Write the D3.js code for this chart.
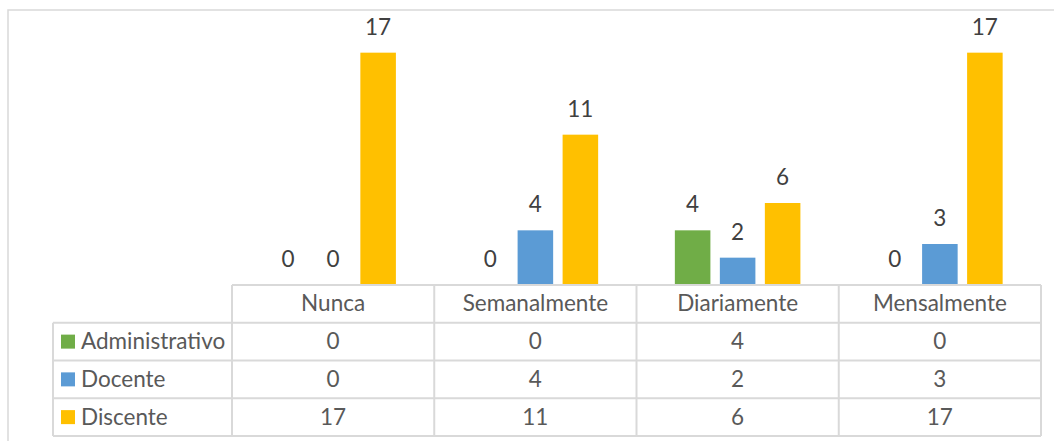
<!DOCTYPE html>
<html>
<head>
<meta charset="utf-8">
<script src="https://cdn.jsdelivr.net/npm/d3@7"></script>
<style>
  body { margin: 0; background: #fff; }
  svg { display: block; font-family: Lato, "Noto Sans", sans-serif; }
</style>
</head>
<body>
<svg width="1054" height="441"></svg>
<script>
// data
var categories = ["Nunca", "Semanalmente", "Diariamente", "Mensalmente"];
var series = ["Administrativo", "Docente", "Discente"];
var administrativo = [0, 0, 4, 0];
var docente = [0, 4, 2, 3];
var discente = [17, 11, 6, 17];
var colors = ["#70AD47", "#5B9BD5", "#FFC000"];

var values = [administrativo, docente, discente];
var fontSize = 22.5;

var svg = d3.select("svg");

//###############################################
// frame
//###############################################
svg.append("rect")
    .attr("x", 8).attr("y", 10)
    .attr("width", 1100).attr("height", 500)
    .attr("fill", "none")
    .attr("stroke", "#D9D9D9")
    .attr("stroke-width", 1.5);

//###############################################
// scales
//###############################################
var x0 = d3.scaleBand().domain(categories).range([232, 1041]);
var x1 = d3.scaleBand().domain(series).range([-67.5, 67.5])
    .paddingInner(0.21).paddingOuter(0.105);
var y = d3.scaleLinear().domain([0, 18]).range([285, 39]);
var rows = d3.scaleBand().domain(["head"].concat(series)).range([285, 436]);

var color = d3.scaleOrdinal().domain(series).range(colors);

var flat = [];
series.forEach(function(s, i) {
  categories.forEach(function(c, j) {
    flat.push({ serie: s, cat: c, value: values[i][j] });
  });
});

//###############################################
// bars + labels
//###############################################
var barX = function(d) { return x0(d.cat) + x0.bandwidth() / 2 + x1(d.serie); };

svg.append("g").selectAll("rect")
  .data(flat)
  .enter().append("rect")
    .attr("x", barX)
    .attr("y", function(d) { return y(d.value); })
    .attr("width", x1.bandwidth())
    .attr("height", function(d) { return y(0) - y(d.value); })
    .attr("fill", function(d) { return color(d.serie); });

svg.append("g").selectAll("text")
  .data(flat)
  .enter().append("text")
    .attr("x", function(d) { return barX(d) + x1.bandwidth() / 2; })
    .attr("y", function(d) { return y(d.value) - 18; })
    .attr("text-anchor", "middle")
    .attr("font-size", fontSize)
    .attr("fill", "#404040")
    .text(function(d) { return d.value; });

//###############################################
// data table
//###############################################
var grid = svg.append("g")
    .attr("stroke", "#D9D9D9")
    .attr("stroke-width", 2);

// axis / header top
grid.append("line")
    .attr("x1", 232).attr("x2", 1041)
    .attr("y1", y(0)).attr("y2", y(0));

// vertical column lines
var colEdges = categories.map(function(c) { return x0(c); }).concat([x0.range()[1]]);
grid.selectAll(".vcol")
  .data(colEdges)
  .enter().append("line")
    .attr("x1", function(d) { return d; })
    .attr("x2", function(d) { return d; })
    .attr("y1", y(0))
    .attr("y2", rows.range()[1]);

// horizontal row lines
var rowEdges = series.map(function(s) { return rows(s); }).concat([rows.range()[1]]);
grid.selectAll(".hrow")
  .data(rowEdges)
  .enter().append("line")
    .attr("x1", 53).attr("x2", 1041)
    .attr("y1", function(d) { return d; })
    .attr("y2", function(d) { return d; });

grid.append("line")
    .attr("x1", 53).attr("x2", 53)
    .attr("y1", rows(series[0])).attr("y2", rows.range()[1]);

var tableText = svg.append("g")
    .attr("font-size", fontSize)
    .attr("fill", "#595959")
    .attr("text-anchor", "middle");

// header
tableText.selectAll(".head")
  .data(categories)
  .enter().append("text")
    .attr("x", function(d) { return x0(d) + x0.bandwidth() / 2; })
    .attr("y", rows("head") + rows.bandwidth() / 2 + 7.5)
    .text(function(d) { return d; });

// cells
tableText.selectAll(".cell")
  .data(flat)
  .enter().append("text")
    .attr("x", function(d) { return x0(d.cat) + x0.bandwidth() / 2; })
    .attr("y", function(d) { return rows(d.serie) + rows.bandwidth() / 2 + 7.5; })
    .text(function(d) { return d.value; });

// legend keys
var legend = svg.append("g").selectAll("g")
  .data(series)
  .enter().append("g")
    .attr("transform", function(d) { return "translate(61," + (rows(d) + rows.bandwidth() / 2) + ")"; });

legend.append("rect")
    .attr("x", 0).attr("y", -7)
    .attr("width", 14).attr("height", 14)
    .attr("fill", function(d) { return color(d); });

legend.append("text")
    .attr("x", 20).attr("y", 7.5)
    .attr("font-size", fontSize)
    .attr("fill", "#595959")
    .text(function(d) { return d; });
</script>
</body>
</html>
